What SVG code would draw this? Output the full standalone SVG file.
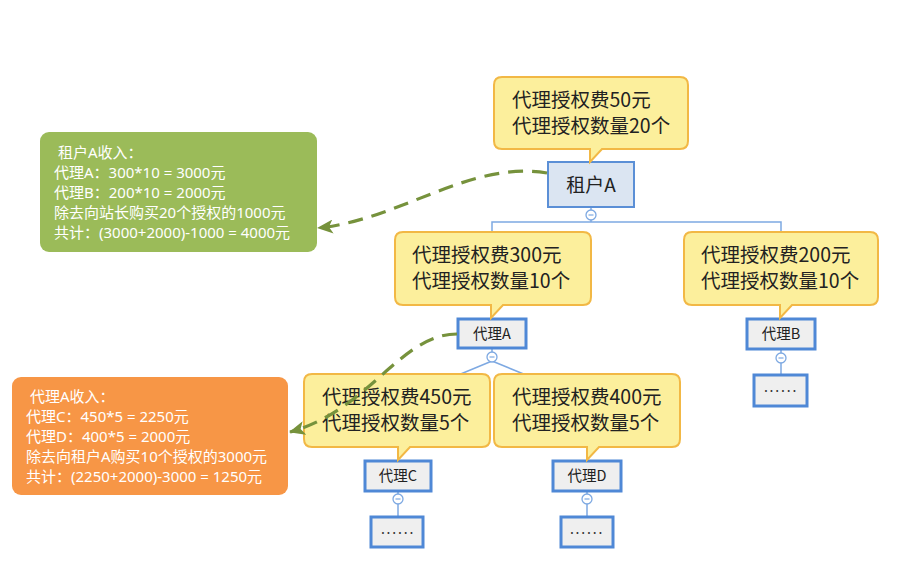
<svg xmlns="http://www.w3.org/2000/svg" width="907" height="574" viewBox="0 0 907 574">
<defs>
<style>
.callout{fill:#fcef9c;stroke:#f2b845;stroke-width:2;}
.ctext{font-family:"Noto Sans CJK SC","Noto Sans",sans-serif;font-size:19.5px;fill:#222;}
.node{fill:#efefef;stroke:#4f88d6;stroke-width:3;}
.root{fill:#dbe5f2;stroke:#5b8fd6;stroke-width:2;}
.ntext{font-family:"Noto Sans CJK SC","Noto Sans",sans-serif;font-size:14.5px;fill:#222;text-anchor:middle;}
.dots{font-family:"Noto Sans CJK SC","Noto Sans",sans-serif;font-size:14px;fill:#333;text-anchor:middle;letter-spacing:1.8px;}
.conn{fill:none;stroke:#7ea9e2;stroke-width:1.5;}
.toggle{fill:#fff;stroke:#7ea9e2;stroke-width:1.3;}
.minus{stroke:#7ea9e2;stroke-width:1.2;}
.rel{fill:none;stroke:#76923c;stroke-width:3.2;stroke-dasharray:15 9;}
.note{font-family:"Noto Sans","Noto Sans CJK SC",sans-serif;font-size:15px;fill:#fff;}
</style>
<marker id="arr" markerUnits="userSpaceOnUse" viewBox="0 0 16 14" markerWidth="16" markerHeight="14" refX="15" refY="7" orient="auto">
<path d="M16,7 L0,0 L4,7 L0,14 Z" fill="#76923c"/>
</marker>
</defs>

<g id="connectors">
<line class="conn" x1="591" y1="207" x2="591" y2="222"/>
<path class="conn" d="M492,236 V222 H781 V236"/>
<line class="conn" x1="492" y1="348" x2="492" y2="357"/>
<path class="conn" d="M492,361 L398,400 M492,361 L587,400"/>
<line class="conn" x1="781" y1="349" x2="781" y2="375"/>
<line class="conn" x1="398" y1="491" x2="398" y2="517"/>
<line class="conn" x1="587" y1="491" x2="587" y2="517"/>
<circle class="toggle" cx="591" cy="215" r="5"/><line class="minus" x1="588.5" y1="215" x2="593.5" y2="215"/>
<circle class="toggle" cx="492" cy="357" r="5"/><line class="minus" x1="489.5" y1="357" x2="494.5" y2="357"/>
<circle class="toggle" cx="781" cy="358" r="5"/><line class="minus" x1="778.5" y1="358" x2="783.5" y2="358"/>
<circle class="toggle" cx="398" cy="499" r="5"/><line class="minus" x1="395.5" y1="499" x2="400.5" y2="499"/>
<circle class="toggle" cx="587" cy="499" r="5"/><line class="minus" x1="584.5" y1="499" x2="589.5" y2="499"/>
</g>

<g id="note-tenant">
<rect x="40" y="132" width="277" height="120" rx="9" fill="#9bbb59"/>
<text class="note" x="58" y="158">租户A收入：</text>
<text class="note" x="54" y="178">代理A：300*10 = 3000元</text>
<text class="note" x="54" y="198">代理B：200*10 = 2000元</text>
<text class="note" x="54" y="218">除去向站长购买20个授权的1000元</text>
<text class="note" x="54" y="238">共计：(3000+2000)-1000 = 4000元</text>
</g>

<g id="note-agentA">
<rect x="12" y="377" width="276" height="118" rx="9" fill="#f79646"/>
<text class="note" x="30" y="402">代理A收入：</text>
<text class="note" x="26" y="422">代理C：450*5 = 2250元</text>
<text class="note" x="26" y="442">代理D：400*5 = 2000元</text>
<text class="note" x="26" y="462">除去向租户A购买10个授权的3000元</text>
<text class="note" x="26" y="482">共计：(2250+2000)-3000 = 1250元</text>
</g>

<g id="tenant-A">
<rect class="root" x="548" y="162" width="86" height="45"/>
<text class="ntext" x="591" y="192" style="font-size:19px">租户A</text>
</g>
<g id="callout-tenant-A">
<path class="callout" d="M502,77 H680 Q688,77 688,85 V141 Q688,149 680,149 H602 L590,162 V149 H502 Q494,149 494,141 V85 Q494,77 502,77 Z"/>
<text class="ctext" x="512" y="107">代理授权费50元</text>
<text class="ctext" x="512" y="133">代理授权数量20个</text>
</g>

<g id="agent-A">
<rect class="node" x="458" y="319" width="68" height="29"/>
<text class="ntext" x="492" y="339">代理A</text>
</g>
<g id="callout-agent-A">
<path class="callout" d="M403,232 H583 Q591,232 591,240 V297 Q591,305 583,305 H503 L491,318 V305 H403 Q395,305 395,297 V240 Q395,232 403,232 Z"/>
<text class="ctext" x="412" y="262">代理授权费300元</text>
<text class="ctext" x="412" y="288">代理授权数量10个</text>
</g>

<g id="agent-B">
<rect class="node" x="747" y="319" width="68" height="30"/>
<text class="ntext" x="781" y="339">代理B</text>
</g>
<g id="callout-agent-B">
<path class="callout" d="M692,232 H870 Q878,232 878,240 V297 Q878,305 870,305 H792 L780,318 V305 H692 Q684,305 684,297 V240 Q684,232 692,232 Z"/>
<text class="ctext" x="701" y="262">代理授权费200元</text>
<text class="ctext" x="701" y="288">代理授权数量10个</text>
</g>
<g id="more-B">
<rect class="node" x="754" y="375" width="53" height="31"/>
<text class="dots" x="781" y="392">......</text>
</g>

<g id="agent-C">
<rect class="node" x="365" y="461" width="66" height="30"/>
<text class="ntext" x="398" y="481">代理C</text>
</g>
<g id="callout-agent-C">
<path class="callout" d="M312,374 H482 Q490,374 490,382 V439 Q490,447 482,447 H410 L398,460 V447 H312 Q304,447 304,439 V382 Q304,374 312,374 Z"/>
<text class="ctext" x="322" y="404">代理授权费450元</text>
<text class="ctext" x="322" y="430">代理授权数量5个</text>
</g>
<g id="more-C">
<rect class="node" x="371" y="517" width="52" height="30"/>
<text class="dots" x="398" y="534">......</text>
</g>

<g id="agent-D">
<rect class="node" x="553" y="461" width="68" height="30"/>
<text class="ntext" x="587" y="481">代理D</text>
</g>
<g id="callout-agent-D">
<path class="callout" d="M502,374 H672 Q680,374 680,382 V439 Q680,447 672,447 H599 L587,460 V447 H502 Q494,447 494,439 V382 Q494,374 502,374 Z"/>
<text class="ctext" x="512" y="404">代理授权费400元</text>
<text class="ctext" x="512" y="430">代理授权数量5个</text>
</g>
<g id="more-D">
<rect class="node" x="561" y="517" width="52" height="30"/>
<text class="dots" x="587" y="534">......</text>
</g>

<g id="relationships">
<path class="rel" d="M547,173 C470,160 400,220 318,228" marker-end="url(#arr)"/>
<path class="rel" d="M457,334 C400,334 370,410 290,432" marker-end="url(#arr)"/>
</g>
</svg>
